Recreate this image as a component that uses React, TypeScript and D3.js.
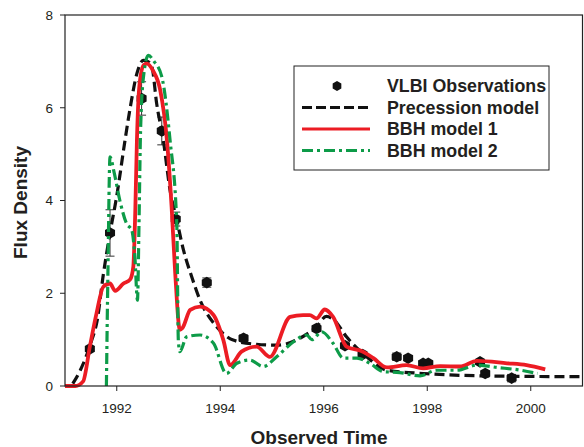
import React from "react";
import * as d3 from "d3";

const W = 584;
const H = 447;

// Precession model (black dashed)
const precYear = [1991.15, 1991.3, 1991.52, 1991.62, 1991.74, 1991.87, 1992.0, 1992.16, 1992.26, 1992.39, 1992.51, 1992.6, 1992.68, 1992.77, 1992.9, 1993.03, 1993.16, 1993.29, 1993.45, 1993.61, 1993.93, 1994.25, 1994.7, 1995.09, 1995.54, 1995.86, 1996.05, 1996.2, 1996.44, 1996.83, 1997.22, 1997.92, 1999.02, 2001.0];
const precFlux = [0.05, 0.35, 1.0, 1.4, 2.4, 3.3, 4.1, 5.3, 6.0, 6.74, 7.02, 7.0, 6.88, 6.1, 5.3, 4.22, 3.58, 2.93, 2.35, 1.85, 1.28, 0.99, 0.9, 0.88, 1.03, 1.28, 1.5, 1.42, 1.06, 0.63, 0.34, 0.27, 0.22, 0.2];

// BBH model 1 (red solid)
const bbh1Year = [1991.0, 1991.2, 1991.35, 1991.48, 1991.61, 1991.74, 1991.87, 1991.97, 1992.13, 1992.26, 1992.32, 1992.36, 1992.39, 1992.44, 1992.52, 1992.58, 1992.7, 1992.84, 1992.97, 1993.06, 1993.13, 1993.22, 1993.27, 1993.42, 1993.61, 1993.87, 1994.06, 1994.19, 1994.41, 1994.7, 1994.96, 1995.35, 1995.6, 1995.73, 1995.86, 1996.02, 1996.18, 1996.44, 1996.76, 1996.96, 1997.22, 1997.6, 1997.92, 1998.25, 1998.63, 1998.96, 1999.54, 1999.92, 2000.28];
const bbh1Flux = [0, 0, 0.1, 0.85, 1.57, 2.14, 2.21, 2.05, 2.21, 2.3, 2.57, 3.86, 5.3, 6.5, 6.92, 6.95, 6.8, 6.38, 5.3, 3.86, 2.43, 1.21, 1.25, 1.64, 1.71, 1.53, 0.99, 0.45, 0.74, 0.85, 0.63, 1.49, 1.53, 1.53, 1.46, 1.65, 1.49, 0.85, 0.74, 0.6, 0.4, 0.45, 0.38, 0.43, 0.42, 0.54, 0.49, 0.45, 0.36];

// BBH model 2 (green dash-dot)
const bbh2Year = [1991.8, 1991.83, 1991.87, 1991.95, 1992.06, 1992.19, 1992.29, 1992.35, 1992.4, 1992.43, 1992.46, 1992.52, 1992.61, 1992.72, 1992.87, 1993.03, 1993.16, 1993.19, 1993.22, 1993.35, 1993.61, 1993.87, 1994.12, 1994.32, 1994.57, 1994.83, 1995.09, 1995.41, 1995.67, 1995.77, 1995.96, 1996.18, 1996.38, 1996.64, 1996.89, 1997.15, 1997.47, 1997.86, 1998.18, 1998.57, 1998.96, 1999.35, 1999.81, 2000.13];
const bbh2Flux = [0, 2.5, 4.94, 4.6, 4.0, 3.5, 3.36, 2.79, 1.85, 3.5, 5.5, 6.7, 7.13, 7.0, 6.67, 5.3, 3.5, 0.99, 0.74, 1.06, 1.1, 0.92, 0.27, 0.49, 0.56, 0.42, 0.63, 0.95, 1.1, 1.0, 1.17, 0.92, 0.6, 0.6, 0.49, 0.31, 0.29, 0.22, 0.34, 0.34, 0.45, 0.4, 0.34, 0.27];

// VLBI observations
const obsYear = [1991.48, 1991.87, 1992.48, 1992.87, 1993.14, 1993.74, 1994.45, 1995.86, 1996.41, 1996.75, 1997.41, 1997.63, 1997.92, 1998.02, 1999.02, 1999.12, 1999.63];
const obsFlux = [0.8, 3.3, 6.2, 5.5, 3.6, 2.23, 1.03, 1.24, 0.87, 0.68, 0.63, 0.6, 0.49, 0.49, 0.52, 0.27, 0.17];
const obsErr = [0.05, 0.5, 0.36, 0.3, 0.15, 0.1, 0.07, 0.05, 0.05, 0.05, 0.08, 0.05, 0.05, 0.05, 0.05, 0.05, 0.08];

const xTicks = [1992, 1994, 1996, 1998, 2000];
const yTicks = [0, 2, 4, 6, 8];

const legendLabels = ["VLBI Observations", "Precession model", "BBH model 1", "BBH model 2"];

const FONT = "'Liberation Sans', Arial, Helvetica, sans-serif";
const TXT = "#231f20";
const RED = "#ec1c24";
const GREEN = "#0d9b48";

const margin = { left: 65, right: 1.5, top: 15, bottom: 61 };

function hexPath(cx: number, cy: number, r: number) {
  const pts = d3.range(6).map((k) => {
    const a = ((-90 + k * 60) * Math.PI) / 180;
    return [cx + r * Math.cos(a), cy + r * Math.sin(a)];
  });
  return "M" + pts.map((p) => p[0].toFixed(2) + "," + p[1].toFixed(2)).join("L") + "Z";
}

export default function App() {
  const x = d3.scaleLinear().domain([1991, 2001]).range([margin.left, W - margin.right]);
  const y = d3.scaleLinear().domain([0, 8]).range([H - margin.bottom, margin.top]);

  const line = d3
    .line<[number, number]>()
    .x((d) => x(d[0]))
    .y((d) => y(d[1]))
    .curve(d3.curveMonotoneX);

  const zip = (a: number[], b: number[]) => a.map((v, i) => [v, b[i]] as [number, number]);

  const x0 = x.range()[0];
  const x1 = x.range()[1];
  const y0 = y.range()[0];
  const y1 = y.range()[1];

  const lgX = 294, lgY = 66, lgW = 255, lgH = 104;
  const rowY = [86, 107.5, 129, 150.5];

  return (
    <svg width={W} height={H} style={{ position: "absolute", left: 0, top: 0, background: "#fff" }} fontFamily={FONT}>
      <rect x={0} y={0} width={W} height={H} fill="#fff" />
      <defs>
        <clipPath id="plot">
          <rect x={x0} y={y1} width={x1 - x0} height={y0 - y1 + 2} />
        </clipPath>
      </defs>

      {/* observations */}
      <g>
        {obsYear.map((yr, i) => (
          <g key={"o" + i}>
            <line x1={x(yr)} x2={x(yr)} y1={y(obsFlux[i] - obsErr[i])} y2={y(obsFlux[i] + obsErr[i])} stroke="#333" strokeWidth={1} />
            <line x1={x(yr) - 4.5} x2={x(yr) + 4.5} y1={y(obsFlux[i] - obsErr[i])} y2={y(obsFlux[i] - obsErr[i])} stroke="#333" strokeWidth={1} />
            <line x1={x(yr) - 4.5} x2={x(yr) + 4.5} y1={y(obsFlux[i] + obsErr[i])} y2={y(obsFlux[i] + obsErr[i])} stroke="#333" strokeWidth={1} />
            <path d={hexPath(x(yr), y(obsFlux[i]), 5.8)} fill="#111" />
          </g>
        ))}
      </g>

      <g clipPath="url(#plot)" fill="none">
        <path d={line(zip(precYear, precFlux)) || ""} stroke="#111" strokeWidth={3.2} strokeDasharray="10,5" />
        <path d={line(zip(bbh1Year, bbh1Flux)) || ""} stroke={RED} strokeWidth={3.8} strokeLinejoin="round" />
        <path d={line(zip(bbh2Year, bbh2Flux)) || ""} stroke={GREEN} strokeWidth={3.2} strokeDasharray="11,4,3,4" />
      </g>

      {/* frame */}
      <rect x={x0} y={y1} width={x1 - x0} height={y0 - y1} fill="none" stroke="#222" strokeWidth={1.2} />

      {/* x axis ticks */}
      {xTicks.map((t) => (
        <g key={"x" + t}>
          <line x1={x(t)} x2={x(t)} y1={y0} y2={y0 + 5} stroke="#222" strokeWidth={1} />
          <text x={x(t)} y={413} textAnchor="middle" fontSize={13.5} fill={TXT}>
            {t}
          </text>
        </g>
      ))}
      {/* y axis ticks */}
      {yTicks.map((t) => (
        <g key={"y" + t}>
          <line x1={x0 - 5} x2={x0} y1={y(t)} y2={y(t)} stroke="#222" strokeWidth={1} />
          <text x={53} y={y(t) + 4.8} textAnchor="end" fontSize={13.5} fill={TXT}>
            {t}
          </text>
        </g>
      ))}

      <text x={319} y={444} textAnchor="middle" fontSize={19} fontWeight="bold" fill={TXT}>
        Observed Time
      </text>
      <text transform={`translate(27,${(y0 + y1) / 2 + 2}) rotate(-90)`} textAnchor="middle" fontSize={19} fontWeight="bold" fill={TXT}>
        Flux Density
      </text>

      {/* legend */}
      <g>
        <rect x={lgX} y={lgY} width={lgW} height={lgH} fill="#fff" stroke="#222" strokeWidth={1} />
        <path d={hexPath(337, rowY[0], 5)} fill="#111" />
        <line x1={302} x2={370} y1={rowY[1]} y2={rowY[1]} stroke="#111" strokeWidth={3} strokeDasharray="10,4" />
        <line x1={302} x2={370} y1={rowY[2]} y2={rowY[2]} stroke={RED} strokeWidth={3} />
        <line x1={302} x2={370} y1={rowY[3]} y2={rowY[3]} stroke={GREEN} strokeWidth={3} strokeDasharray="11,4,3,4" />
        {legendLabels.map((l, i) => (
          <text key={l} x={387} y={rowY[i] + 6.3} fontSize={17.8} fontWeight="bold" fill={TXT}>
            {l}
          </text>
        ))}
      </g>
    </svg>
  );
}
